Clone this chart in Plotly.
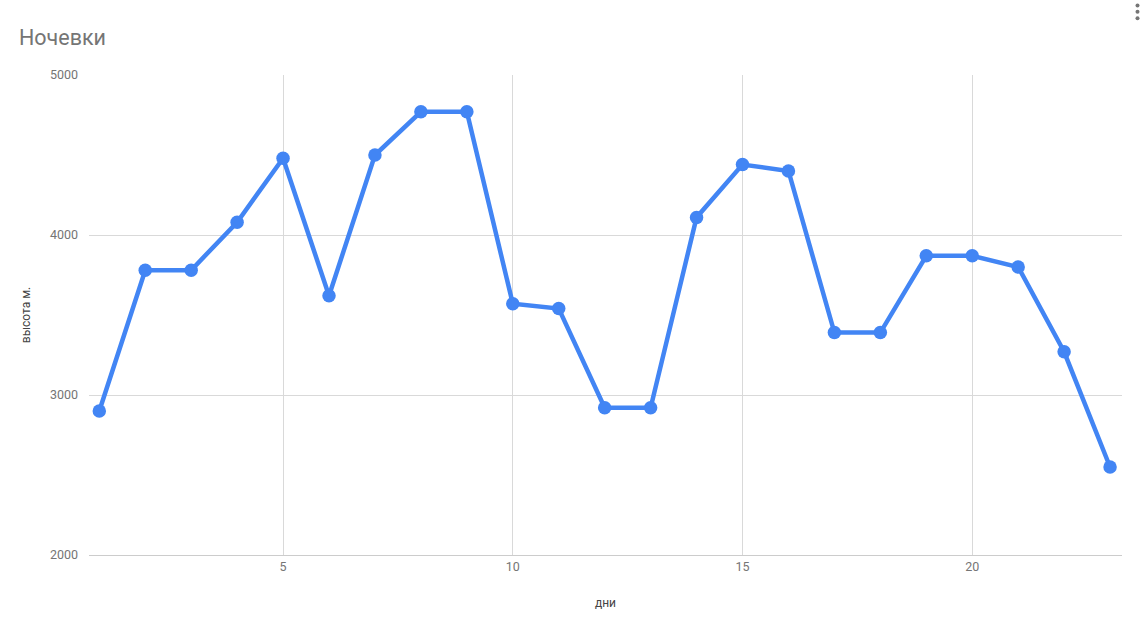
import plotly.graph_objects as go

days = list(range(1, 24))
heights = [2900, 3780, 3780, 4080, 4480, 3620, 4500, 4770, 4770, 3570, 3540,
           2920, 2920, 4110, 4440, 4400, 3390, 3390, 3870, 3870, 3800, 3270, 2550]
x_ticks = [5, 10, 15, 20]
y_ticks = [2000, 3000, 4000, 5000]

W, H = 1148, 626
L, R, T, B = 89, 26, 75, 71

fig = go.Figure()
fig.add_trace(go.Scatter(
    x=days, y=heights, mode="lines+markers",
    line=dict(color="#4285f4", width=4.5),
    marker=dict(color="#4285f4", size=13.5),
    hoverinfo="x+y", showlegend=False,
))

fig.update_layout(
    width=W, height=H,
    margin=dict(l=L, r=R, t=T, b=B),
    paper_bgcolor="white", plot_bgcolor="white",
    font=dict(family="Roboto, Arial, sans-serif", color="#757575", size=12),
    title=dict(text="Ночевки", x=19 / W, xanchor="left", y=1 - 37 / H, yanchor="middle",
               font=dict(size=21.5, color="#757575")),
    xaxis=dict(range=[0.776, 23.26], tickvals=x_ticks, showgrid=True, gridcolor="#d9d9d9",
               gridwidth=1, zeroline=False, showline=True, linecolor="#cccccc",
               ticks="", tickfont=dict(size=12.5, color="#757575"),
               title=dict(text="дни", font=dict(size=12, color="#444444"), standoff=25)),
    yaxis=dict(range=[2000, 5000], tickvals=y_ticks, showgrid=True, gridcolor="#d9d9d9",
               gridwidth=1, zeroline=False, showline=False, ticks="",
               tickfont=dict(size=12.5, color="#757575"), ticklabelstandoff=10,
               title=dict(text="высота м.", font=dict(size=12, color="#444444"), standoff=16)),
)

# three-dot menu icon (top-right)
for cy in (5.5, 11.7, 18.2):
    fig.add_shape(type="circle", xref="paper", yref="paper",
                  x0=(1135.5 - L) / (W - L - R), x1=(1139.5 - L) / (W - L - R),
                  y0=(H - B - cy - 2) / (H - T - B), y1=(H - B - cy + 2) / (H - T - B),
                  fillcolor="#757575", line=dict(width=0))

fig.write_html("out.html", config={"displayModeBar": False},
               post_script="document.body.style.margin='0px';")
